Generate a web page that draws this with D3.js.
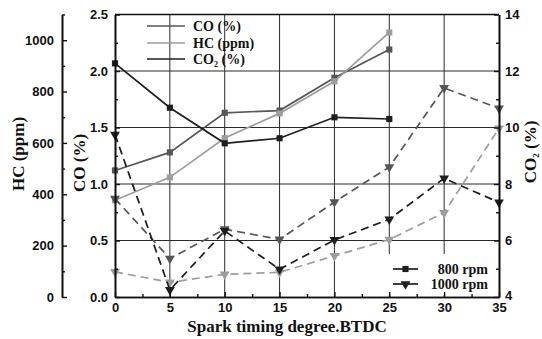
<!DOCTYPE html>
<html>
<head>
<meta charset="utf-8">
<script src="https://cdn.jsdelivr.net/npm/d3@7"></script>
<style>
  html, body { margin: 0; padding: 0; background: #fff; }
  svg { display: block; }
  .tick text { font-family: "Liberation Sans", Arial, sans-serif; font-weight: bold; font-size: 13px; fill: #111; }
  .title { font-family: "Liberation Serif", "Times New Roman", serif; font-weight: bold; font-size: 17px; fill: #111; }
  .legend { font-family: "Liberation Serif", "Times New Roman", serif; font-weight: bold; font-size: 14px; fill: #111; }
</style>
</head>
<body>
<script>
// Spark timing (degrees BTDC)
const timing800 = [0, 5, 10, 15, 20, 25];
const timing1000 = [0, 5, 10, 15, 20, 25, 30, 35];

// 800 rpm series
const co800 = [1.12, 1.28, 1.63, 1.65, 1.94, 2.19];
const hc800 = [377, 466, 619, 715, 840, 1030];
const co2_800 = [12.27, 10.7, 9.44, 9.62, 10.36, 10.3];

// 1000 rpm series
const co1000 = [0.87, 0.34, 0.60, 0.51, 0.84, 1.15, 1.85, 1.67];
const hc1000 = [98, 57, 88, 96, 160, 224, 328, 657];
const co2_1000 = [9.75, 4.25, 6.34, 4.98, 6.02, 6.75, 8.2, 7.35];

// Tick values
const xTicks = [0, 5, 10, 15, 20, 25, 30, 35];
const coTicks = [0, 0.5, 1.0, 1.5, 2.0, 2.5];
const hcTicks = [0, 200, 400, 600, 800, 1000];
const co2Ticks = [4, 6, 8, 10, 12, 14];

const W = 542, H = 339;
const L = 115, R = 499, T = 14.5, B = 297;
const hcAxisX = 62;

const colCO = "#565656", colHC = "#9d9d9d", colCO2 = "#1e1e1e";

const svg = d3.select("body").append("svg").attr("width", W).attr("height", H);

const x = d3.scaleLinear().domain([0, 35]).range([L, R]);
const yCO = d3.scaleLinear().domain([0, 2.5]).range([B, T]);
const yHC = d3.scaleLinear().domain([0, 1100]).range([B, T]);
const yCO2 = d3.scaleLinear().domain([4, 14]).range([B, T]);

// grid
const grid = svg.append("g").attr("stroke", "#2a2a2a").attr("stroke-width", 1);
grid.selectAll("line.v").data(xTicks.slice(1, -1)).join("line")
  .attr("x1", d => x(d)).attr("x2", d => x(d)).attr("y1", T).attr("y2", B);
grid.selectAll("line.h").data(coTicks.slice(1, -1)).join("line")
  .attr("x1", L).attr("x2", R).attr("y1", d => yCO(d)).attr("y2", d => yCO(d));

// lower-right legend background
svg.append("rect").attr("x", 384).attr("y", 254).attr("width", 110).attr("height", 41).attr("fill", "#fff");

// series
const series = [
  { xs: timing800, ys: co800, y: yCO, color: colCO, dash: null, marker: "square" },
  { xs: timing800, ys: hc800, y: yHC, color: colHC, dash: null, marker: "square" },
  { xs: timing800, ys: co2_800, y: yCO2, color: colCO2, dash: null, marker: "square" },
  { xs: timing1000, ys: co1000, y: yCO, color: colCO, dash: "8,5", marker: "tri" },
  { xs: timing1000, ys: hc1000, y: yHC, color: colHC, dash: "8,5", marker: "tri" },
  { xs: timing1000, ys: co2_1000, y: yCO2, color: colCO2, dash: "8,5", marker: "tri" }
];

const sq = d3.symbol().type(d3.symbolSquare).size(38);
const tri = d3.symbol().type(d3.symbolTriangle).size(42);

series.forEach(s => {
  const pts = s.xs.map((t, i) => [t, s.ys[i]]);
  const line = d3.line().x(d => x(d[0])).y(d => s.y(d[1]));
  svg.append("path").datum(pts).attr("d", line)
    .attr("fill", "none").attr("stroke", s.color).attr("stroke-width", 1.7)
    .attr("stroke-dasharray", s.dash);
  svg.append("g").selectAll("path").data(pts).join("path")
    .attr("d", s.marker === "square" ? sq : tri)
    .attr("transform", d => `translate(${x(d[0])},${s.y(d[1])})` + (s.marker === "tri" ? " rotate(180)" : ""))
    .attr("fill", s.color);
});

// axes
function styleAxis(g) {
  g.select(".domain").attr("stroke", "#111").attr("stroke-width", 1.6);
  g.selectAll(".tick line").attr("stroke", "#111").attr("stroke-width", 1.4);
}

// bottom
svg.append("g").attr("transform", `translate(0,${B})`)
  .call(d3.axisBottom(x).tickValues(d3.range(2.5, 35, 5)).tickSizeInner(-3).tickSizeOuter(0).tickFormat(""))
  .call(styleAxis);
svg.append("g").attr("transform", `translate(0,${B})`)
  .call(d3.axisBottom(x).tickValues(xTicks).tickSizeInner(-5).tickSizeOuter(0).tickPadding(6).tickFormat(d3.format("d")))
  .call(styleAxis);

// top frame
svg.append("line").attr("x1", L).attr("x2", R).attr("y1", T).attr("y2", T).attr("stroke", "#111").attr("stroke-width", 1.6);

// CO axis (inner left)
svg.append("g").attr("transform", `translate(${L},0)`)
  .call(d3.axisLeft(yCO).tickValues(d3.range(0.25, 2.5, 0.5)).tickSizeInner(-3).tickSizeOuter(0).tickFormat(""))
  .call(styleAxis);
svg.append("g").attr("transform", `translate(${L},0)`)
  .call(d3.axisLeft(yCO).tickValues(coTicks).tickSizeInner(-5).tickSizeOuter(0).tickPadding(7).tickFormat(d3.format(".1f")))
  .call(styleAxis);

// CO2 axis (right)
svg.append("g").attr("transform", `translate(${R},0)`)
  .call(d3.axisRight(yCO2).tickValues(d3.range(5, 14, 2)).tickSizeInner(-3).tickSizeOuter(0).tickFormat(""))
  .call(styleAxis);
svg.append("g").attr("transform", `translate(${R},0)`)
  .call(d3.axisRight(yCO2).tickValues(co2Ticks).tickSizeInner(-5).tickSizeOuter(0).tickPadding(6).tickFormat(d3.format("d")))
  .call(styleAxis)
  .call(g => g.selectAll(".tick text").filter(d => d === 4).attr("dy", "0.2em"));

// HC axis (outer left)
svg.append("g").attr("transform", `translate(${hcAxisX},0)`)
  .call(d3.axisLeft(yHC).tickValues(d3.range(100, 1101, 200)).tickSizeInner(-3).tickSizeOuter(0).tickFormat(""))
  .call(styleAxis);
svg.append("g").attr("transform", `translate(${hcAxisX},0)`)
  .call(d3.axisLeft(yHC).tickValues(hcTicks).tickSizeInner(-5).tickSizeOuter(0).tickPadding(8).tickFormat(d3.format("d")))
  .call(styleAxis);

// axis titles
svg.append("text").attr("class", "title").attr("text-anchor", "middle")
  .attr("transform", `translate(24,154) rotate(-90)`).text("HC (ppm)");
svg.append("text").attr("class", "title").attr("text-anchor", "middle")
  .attr("transform", `translate(85,163) rotate(-90)`).text("CO (%)");
const co2Title = svg.append("text").attr("class", "title").attr("text-anchor", "middle")
  .attr("transform", `translate(536,152) rotate(-90)`);
co2Title.append("tspan").text("CO");
co2Title.append("tspan").attr("font-size", "9px").attr("dy", 3).text("2");
co2Title.append("tspan").attr("dy", -3).text(" (%)");
svg.append("text").attr("class", "title").attr("text-anchor", "middle")
  .attr("x", 287).attr("y", 332).text("Spark timing degree.BTDC");

// upper legend (pollutant colours)
const legTop = [
  { label: "CO", sub: null, rest: " (%)", color: colCO, y: 26 },
  { label: "HC (ppm)", sub: null, rest: "", color: colHC, y: 43 },
  { label: "CO", sub: "2", rest: " (%)", color: colCO2, y: 59 }
];
legTop.forEach(d => {
  svg.append("line").attr("x1", 147).attr("x2", 185).attr("y1", d.y).attr("y2", d.y)
    .attr("stroke", d.color).attr("stroke-width", 1.7);
  const t = svg.append("text").attr("class", "legend").attr("x", 193).attr("y", d.y + 5);
  t.append("tspan").text(d.label);
  if (d.sub) {
    t.append("tspan").attr("font-size", "8px").attr("dy", 3).text(d.sub);
    t.append("tspan").attr("dy", -3).text(d.rest);
  } else {
    t.append("tspan").text(d.rest);
  }
});

// lower legend (engine speed)
const legBot = [
  { label: "800 rpm", marker: sq, rot: "", y: 269 },
  { label: "1000 rpm", marker: tri, rot: " rotate(180)", y: 284 }
];
legBot.forEach(d => {
  svg.append("line").attr("x1", 393).attr("x2", 418).attr("y1", d.y).attr("y2", d.y)
    .attr("stroke", colCO2).attr("stroke-width", 1.7);
  svg.append("path").attr("d", d.marker).attr("fill", colCO2)
    .attr("transform", `translate(405.5,${d.y})${d.rot}`);
  svg.append("text").attr("class", "legend").attr("text-anchor", "end")
    .attr("x", 488).attr("y", d.y + 5).text(d.label);
});
</script>
</body>
</html>
